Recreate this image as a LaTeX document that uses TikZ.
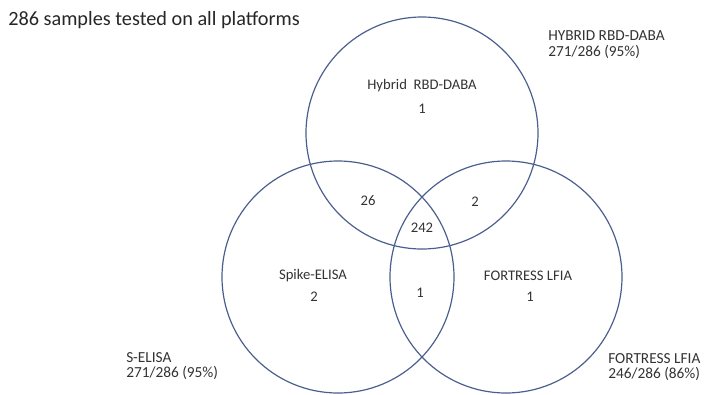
\documentclass[tikz,border=0pt]{standalone}
\usepackage{fontspec}
\setmainfont{Carlito}
\definecolor{ring}{HTML}{4A5F8E}
\definecolor{txt}{HTML}{333333}
\begin{document}
\begin{tikzpicture}[x=0.75pt,y=-0.75pt,
  ringc/.style={draw=ring,line width=0.9pt},
  lbl/.style={text=txt,font=\fontsize{11}{13}\selectfont,inner sep=0pt},
  side/.style={text=txt,font=\fontsize{11.5}{11.5}\selectfont,inner sep=0pt,align=left,anchor=west}]
\useasboundingbox (0,0) rectangle (704,394);
\node[ringc,circle,minimum size=232*0.75pt,inner sep=0pt] (top) at (422,133) {};
\node[ringc,circle,minimum size=232*0.75pt,inner sep=0pt] (left) at (338,277) {};
\node[ringc,circle,minimum size=232*0.75pt,inner sep=0pt] (right) at (506,277) {};
\node[anchor=west,inner sep=0pt,text=black!85,font=\fontsize{15.2}{17}\selectfont] (title) at (8,20) {286 samples tested on all platforms};
\node[lbl] (tname) at (422,86) {Hybrid\ \ RBD-DABA};
\node[lbl] (tnum) at (422,109) {1};
\node[lbl] (lname) at (313,276) {Spike-ELISA};
\node[lbl] (lnum) at (314,297) {2};
\node[lbl] (rname) at (528,276) {FORTRESS LFIA};
\node[lbl] (rnum) at (530,297) {1};
\node[lbl] (tl) at (368,201) {26};
\node[lbl] (tr) at (475,202) {2};
\node[lbl] (all) at (422,228) {242};
\node[lbl] (lr) at (420,293) {1};
\node[side] (hyb) at (548,44.5) {HYBRID RBD-DABA\\271/286 (95\%)};
\node[side] (sel) at (126,366) {S-ELISA\\271/286 (95\%)};
\node[side] (fort) at (608,367) {FORTRESS LFIA\\246/286 (86\%)};
\end{tikzpicture}
\end{document}
